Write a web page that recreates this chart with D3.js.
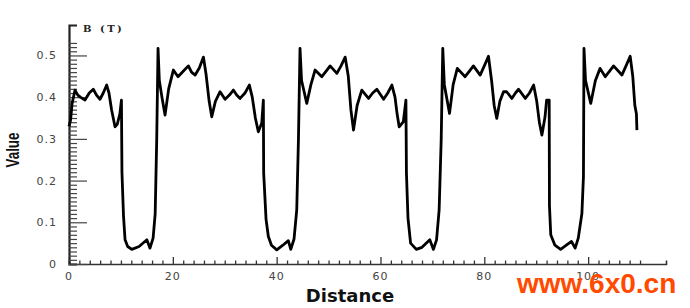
<!DOCTYPE html>
<html>
<head>
<meta charset="utf-8">
<script src="https://cdn.jsdelivr.net/npm/d3@7"></script>
<style>
  body { margin: 0; background: #fff; }
  svg { display: block; }
</style>
</head>
<body>
<svg id="chart" width="690" height="308"></svg>
<script>
// distance along the sample (x) and field value B in T (y)
const distance = [
  0, 0.3, 0.6, 1.16, 1.7, 2.2, 3.08, 3.9, 4.68, 5.3, 5.97, 6.6, 7.26, 7.7, 8.2, 8.86, 9.3, 9.8, 10.1,
  10.2, 10.5, 10.8, 11.3, 12.1, 13.5, 15.0, 15.6, 16.2, 16.6, 16.9,
  17.15, 17.4, 17.9, 18.5, 19.2, 20.1, 21.0, 22.0, 23.0, 23.6, 24.3, 25.1, 25.9, 26.4, 27.0, 27.5,
  28.2, 29.1, 30.06, 30.9, 31.66, 32.3, 32.95, 33.9, 34.74, 35.3, 35.9, 36.47, 37.13, 37.44,
  37.5, 37.96, 38.4, 39.0, 40.02, 41.2, 42.25, 42.72, 43.35, 43.87, 44.2,
  44.5, 44.8, 45.8, 46.6, 47.4, 48.7, 49.5, 50.3, 51.6, 52.4, 53.2, 53.8, 54.3, 54.8,
  55.5, 56.4, 57.7, 58.5, 59.3, 60.6, 61.4, 62.2, 62.8, 63.2, 63.6, 64.4, 64.9,
  65.0, 65.3, 65.8, 66.9, 68.0, 69.5, 70.2, 70.8, 71.3, 71.7,
  72.0, 72.3, 73.3, 74.0, 74.8, 76.3, 77.1, 77.9, 79.2, 80.0, 80.8, 81.4, 81.9, 82.4,
  83.0, 83.7, 84.3, 85.3, 86.0, 86.6, 87.9, 88.7, 89.5, 90.1, 90.6, 91.1, 91.7, 92.0, 92.5,
  92.55, 92.8, 93.6, 94.7, 95.8, 96.8, 97.5, 98.1, 98.8, 99.1,
  99.2, 99.5, 100.5, 101.4, 102.3, 103.3, 104.1, 104.9, 106.5, 107.3, 108.1, 108.6, 109.0, 109.3, 109.4
];
const value = [
  0.33, 0.345, 0.385, 0.417, 0.405, 0.40, 0.393, 0.41, 0.419, 0.405, 0.395, 0.41, 0.429, 0.41, 0.37, 0.329, 0.335, 0.36, 0.393,
  0.22, 0.115, 0.058, 0.042, 0.035, 0.042, 0.058, 0.038, 0.062, 0.12, 0.30,
  0.517, 0.44, 0.40, 0.357, 0.42, 0.465, 0.449, 0.462, 0.475, 0.46, 0.453, 0.47, 0.496, 0.455, 0.39, 0.353,
  0.39, 0.413, 0.395, 0.405, 0.417, 0.405, 0.397, 0.41, 0.429, 0.40, 0.35, 0.317, 0.338, 0.393,
  0.218, 0.107, 0.066, 0.045, 0.034, 0.045, 0.056, 0.035, 0.06, 0.13, 0.30,
  0.517, 0.44, 0.385, 0.43, 0.465, 0.449, 0.462, 0.475, 0.457, 0.475, 0.496, 0.45, 0.37, 0.321,
  0.38, 0.417, 0.397, 0.41, 0.419, 0.395, 0.41, 0.429, 0.40, 0.36, 0.329, 0.341, 0.393,
  0.218, 0.11, 0.05, 0.035, 0.04, 0.058, 0.035, 0.058, 0.13, 0.30,
  0.517, 0.43, 0.361, 0.43, 0.469, 0.449, 0.462, 0.475, 0.453, 0.475, 0.498, 0.44, 0.38, 0.349,
  0.39, 0.413, 0.413, 0.397, 0.41, 0.419, 0.397, 0.41, 0.429, 0.39, 0.34, 0.309, 0.353, 0.393, 0.393,
  0.14, 0.07, 0.045, 0.035, 0.045, 0.054, 0.038, 0.062, 0.121, 0.21,
  0.517, 0.44, 0.385, 0.44, 0.469, 0.449, 0.462, 0.475, 0.453, 0.475, 0.498, 0.45, 0.38, 0.36, 0.321
];

// tick labels
const xTickLabels = [0, 20, 40, 60, 80, 100];
const yTickLabels = [0, 0.1, 0.2, 0.3, 0.4, 0.5];

const svg = d3.select("#chart");

// scales
const xScale = d3.scaleLinear().domain([0, 115]).range([69, 666]);
const yScale = d3.scaleLinear().domain([0, 0.573]).range([264, 25]);

const data = distance.map((d, i) => ({ x: d, y: value[i] }));

// x axis: minor ticks every 2, major every 20, drawn upward
const xAxis = svg.append("g")
  .attr("transform", "translate(0,264)")
  .call(d3.axisTop(xScale).tickValues(d3.range(0, 111, 2)).tickSize(3.5).tickFormat(""));
xAxis.select(".domain").attr("stroke", "#333").attr("stroke-width", 1.6);
xAxis.selectAll(".tick line")
  .attr("stroke", "#333")
  .attr("stroke-width", 1.3)
  .attr("y2", d => d % 20 === 0 ? -7 : -3.5);

// y axis: minor ticks every 0.01, major every 0.1, drawn inward
const yAxis = svg.append("g")
  .attr("transform", "translate(69,0)")
  .call(d3.axisRight(yScale).tickValues(d3.range(0, 54).map(i => i / 100)).tickSize(8).tickFormat(""));
yAxis.select(".domain").attr("stroke", "#222").attr("stroke-width", 2.2);
yAxis.selectAll(".tick line")
  .attr("stroke", "#444")
  .attr("stroke-width", 1.2)
  .attr("x2", (d, i) => i % 10 === 0 ? 18 : 8);

// tick labels
svg.selectAll("text.xlab")
  .data(xTickLabels)
  .join("text")
  .attr("class", "xlab")
  .attr("x", d => xScale(d))
  .attr("y", 280)
  .attr("text-anchor", "middle")
  .style("font-family", "DejaVu Sans")
  .style("font-size", "11px")
  .style("letter-spacing", "1px")
  .attr("fill", "#444")
  .text(d => d);

svg.selectAll("text.ylab")
  .data(yTickLabels)
  .join("text")
  .attr("class", "ylab")
  .attr("x", 57)
  .attr("y", d => yScale(d) + 4)
  .attr("text-anchor", "end")
  .style("font-family", "DejaVu Sans")
  .style("font-size", "11px")
  .style("letter-spacing", "1px")
  .attr("fill", "#444")
  .text(d => d === 0 ? "0" : d.toFixed(1));

// the series line
const line = d3.line()
  .x(d => xScale(d.x))
  .y(d => yScale(d.y));

svg.append("path")
  .datum(data)
  .attr("d", line)
  .attr("fill", "none")
  .attr("stroke", "#000")
  .attr("stroke-width", 2.8)
  .attr("stroke-linejoin", "round");

// titles
svg.append("text")
  .attr("x", 83)
  .attr("y", 32)
  .style("font-family", "DejaVu Serif")
  .style("font-weight", "bold")
  .style("font-size", "10px")
  .style("letter-spacing", "2.5px")
  .attr("fill", "#222")
  .text("B (T)");

svg.append("text")
  .attr("transform", "translate(19,150) rotate(-90)")
  .attr("text-anchor", "middle")
  .attr("textLength", 35)
  .attr("lengthAdjust", "spacingAndGlyphs")
  .style("font-family", "Liberation Sans")
  .style("font-weight", "bold")
  .style("font-size", "18px")
  .attr("fill", "#111")
  .text("Value");

svg.append("text")
  .attr("x", 350)
  .attr("y", 302)
  .attr("text-anchor", "middle")
  .style("font-family", "DejaVu Sans")
  .style("font-weight", "bold")
  .style("font-size", "18px")
  .attr("fill", "#111")
  .text("Distance");

// site watermark
svg.append("text")
  .attr("x", 517)
  .attr("y", 293)
  .style("font-family", "Liberation Sans")
  .style("font-weight", "bold")
  .style("font-size", "28px")
  .attr("fill", "#ff4a00")
  .text("www.6x0.cn");
</script>
</body>
</html>
